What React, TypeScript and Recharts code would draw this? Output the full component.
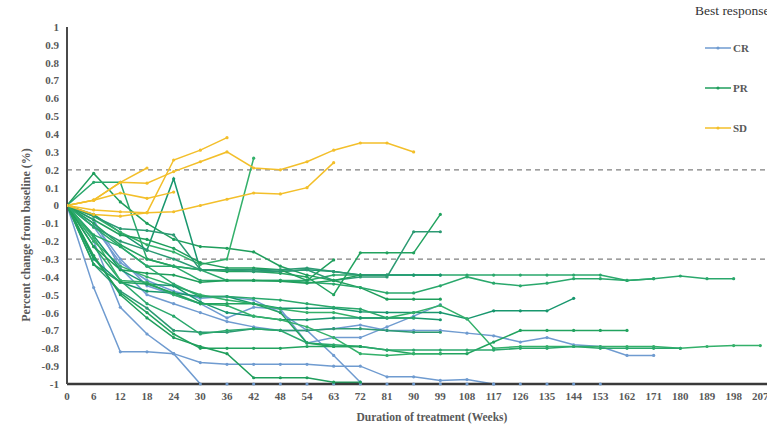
import { LineChart, Line, XAxis, YAxis, ReferenceLine, Legend } from "recharts";

// x categories (weeks) are evenly spaced, so the axis runs on the category index
const weeks = [0, 6, 12, 18, 24, 30, 36, 42, 48, 54, 63, 72, 81, 90, 99, 108, 117, 126, 135, 144, 153, 162, 171, 180, 189, 198, 207];
const yTicks = [-1, -0.9, -0.8, -0.7, -0.6, -0.5, -0.4, -0.3, -0.2, -0.1, 0, 0.1, 0.2, 0.3, 0.4, 0.5, 0.6, 0.7, 0.8, 0.9, 1];

// CR
const cr1 = [0, -0.46, -0.82, -0.82, -0.83, -0.88, -0.89, -0.89, -0.89, -0.89, -0.9, -0.9, -0.96, -0.96, -0.98, -0.975, -1];
const cr2 = [0, -0.2, -0.57, -0.72, -0.83, -1, -1, -1, -1, -1, -1, -1, -1, -1, -1, -1, -1, -1, -1, -1, -1];
const cr3 = [0, -0.1, -0.3, -0.45, -0.5, -0.55, -0.63, -0.57, -0.58, -0.77, -0.74, -0.74, -0.68, -0.62, -0.555];
const cr4 = [0, -0.12, -0.32, -0.42, -0.48, -0.52, -0.51, -0.53, -0.6, -0.7, -0.84, -0.99];
const cr5 = [0, -0.08, -0.35, -0.5, -0.55, -0.6, -0.65, -0.68, -0.7, -0.7, -0.69, -0.67, -0.7, -0.7, -0.7, -0.715, -0.73, -0.765, -0.74, -0.78, -0.79, -0.84, -0.84];

// PR
const pr1 = [0, 0.18, 0.02, -0.1, -0.19, -0.23, -0.24, -0.26, -0.34, -0.39, -0.42, -0.46, -0.525, -0.525, -0.525];
const pr2 = [0, 0.13, 0.13, -0.3, -0.34, -0.42, -0.42, -0.42, -0.42, -0.42, -0.39, -0.39, -0.39, -0.39, -0.39, -0.39, -0.39, -0.39, -0.39, -0.39, -0.39, -0.42, -0.41, -0.395, -0.41, -0.41];
const pr3 = [0, -0.05, -0.15, -0.25, 0.15, -0.36, -0.36, -0.36, -0.37, -0.36, -0.37, -0.39, -0.39, -0.39, -0.39];
const pr4 = [0, -0.06, -0.15, -0.22, -0.26, -0.33, -0.3, 0.265];
const pr5 = [0, -0.1, -0.22, -0.3, -0.34, -0.36, -0.37, -0.37, -0.38, -0.4, -0.5, -0.265, -0.265, -0.265, -0.05];
const pr6 = [0, -0.12, -0.2, -0.25, -0.3, -0.36, -0.36, -0.37, -0.37, -0.36, -0.42, -0.4, -0.4, -0.147, -0.147];
const pr7 = [0, -0.08, -0.165, -0.19, -0.24, -0.32, -0.35, -0.35, -0.36, -0.42, -0.305];
const pr8 = [0, -0.12, -0.23, -0.34, -0.34, -0.36, -0.42, -0.42, -0.42, -0.43, -0.44, -0.46, -0.49, -0.49, -0.45, -0.4, -0.435, -0.45, -0.435, -0.41, -0.41, -0.42, -0.41];
const pr9 = [0, -0.3, -0.43, -0.48, -0.49, -0.51, -0.51, -0.55, -0.575, -0.575, -0.575, -0.595, -0.6, -0.6, -0.6, -0.635, -0.59, -0.59, -0.59, -0.52];
const pr10 = [0, -0.2, -0.34, -0.4, -0.45, -0.5, -0.53, -0.55, -0.58, -0.6, -0.6, -0.63, -0.63, -0.6, -0.56, -0.635, -0.8, -0.79, -0.79, -0.79, -0.79, -0.79, -0.79, -0.8, -0.79, -0.785, -0.785];
const pr11 = [0, -0.29, -0.49, -0.6, -0.72, -0.8, -0.8, -0.8, -0.8, -0.79, -0.79, -0.79, -0.81, -0.83, -0.83, -0.83, -0.765, -0.7, -0.7, -0.7, -0.7, -0.7];
const pr12 = [0, -0.33, -0.48, -0.575, -0.7, -0.71, -0.71, -0.69, -0.7, -0.7, -0.69, -0.69, -0.7, -0.71, -0.71];
const pr13 = [0, -0.28, -0.5, -0.63, -0.74, -0.79, -0.83, -0.965, -0.965, -0.965, -0.99, -0.99];
const pr14 = [0, -0.23, -0.42, -0.55, -0.62, -0.72, -0.7, -0.69, -0.7, -0.77, -0.78, -0.79, -0.81, -0.81, -0.81, -0.81, -0.81, -0.8, -0.8, -0.79, -0.8, -0.8, -0.8, -0.8];
const pr15 = [0, -0.17, -0.36, -0.44, -0.45, -0.54, -0.6, -0.62, -0.64, -0.64, -0.63, -0.63, -0.63, -0.63, -0.64];
const pr16 = [0, -0.18, -0.42, -0.43, -0.5, -0.55, -0.56, -0.62, -0.64, -0.68, -0.74, -0.83, -0.84, -0.83, -0.83];
const pr17 = [0, -0.33, -0.43, -0.44, -0.49, -0.55, -0.55, -0.55, -0.6, -0.77, -0.79, -0.79];
const pr18 = [0, -0.06, -0.13, -0.14, -0.165, -0.36, -0.36, -0.36, -0.36, -0.35, -0.37, -0.39, -0.39];
const pr19 = [0, -0.23, -0.36, -0.38, -0.39, -0.43, -0.42, -0.42, -0.425, -0.435, -0.42, -0.39];
const pr20 = [0, -0.165, -0.23, -0.34, -0.44, -0.51, -0.51, -0.52, -0.53, -0.55, -0.57, -0.58, -0.63, -0.63];

// SD
const sd1 = [0, 0.03, 0.13, 0.21];
const sd2 = [0, -0.025, -0.035, -0.04, 0.255, 0.31, 0.38];
const sd3 = [0, 0.03, 0.13, 0.125, 0.19, 0.245, 0.3, 0.21, 0.2, 0.245, 0.31, 0.35, 0.35, 0.3];
const sd4 = [0, 0.03, 0.07, 0.04, 0.075];
const sd5 = [0, -0.05, -0.06, -0.04, -0.035, 0, 0.035, 0.07, 0.065, 0.1, 0.24];

const CR_COLOR = "#6f9bd0";
const PR_COLORS = ["#1f9e5c", "#2aa86c", "#18976e", "#33b06a", "#22a35f", "#2c9a73"];
const SD_COLOR = "#f3bf2a";

const crList = [cr1, cr2, cr3, cr4, cr5];
const prList = [pr1, pr2, pr3, pr4, pr5, pr6, pr7, pr8, pr9, pr10, pr11, pr12, pr13, pr14, pr15, pr16, pr17, pr18, pr19, pr20];
const sdList = [sd1, sd2, sd3, sd4, sd5];

const series = [
  ...crList.map((v, k) => ({ key: `cr${k + 1}`, values: v, color: CR_COLOR })),
  ...prList.map((v, k) => ({ key: `pr${k + 1}`, values: v, color: PR_COLORS[k % PR_COLORS.length] })),
  ...sdList.map((v, k) => ({ key: `sd${k + 1}`, values: v, color: SD_COLOR })),
];

const rows = weeks.map((w, i) => {
  const r: Record<string, number> = { i };
  series.forEach((s) => {
    if (i < s.values.length) r[s.key] = s.values[i];
  });
  return r;
});

const font = "'Liberation Serif', 'Times New Roman', serif";
const grey = "#595959";

function fmtY(v: number) {
  return String(Number(v.toFixed(1)));
}

function LegendBox() {
  const items = [
    { name: "CR", color: CR_COLOR, top: 42 },
    { name: "PR", color: PR_COLORS[0], top: 82 },
    { name: "SD", color: SD_COLOR, top: 122 },
  ];
  return (
    <div style={{ position: "relative", width: 100, height: 140, fontFamily: font }}>
      <div style={{ position: "absolute", left: 7, top: 3, fontSize: 13.5, color: "#333", whiteSpace: "nowrap" }}>
        Best response
      </div>
      {items.map((it) => (
        <div key={it.name} style={{ position: "absolute", left: 17, top: it.top, height: 12, display: "flex", alignItems: "center" }}>
          <svg width={26} height={8}>
            <line x1={0} y1={4} x2={26} y2={4} stroke={it.color} strokeWidth={1.5} />
            <circle cx={13} cy={4} r={1.6} fill={it.color} />
          </svg>
          <span style={{ marginLeft: 2, fontSize: 11, fontWeight: "bold", color: grey }}>{it.name}</span>
        </div>
      ))}
    </div>
  );
}

export default function App() {
  return (
    <div style={{ position: "absolute", left: 0, top: 0, background: "#fff" }}>
      <LineChart width={767} height={425} data={rows} margin={{ top: 27, right: 0, left: 0, bottom: 0 }}>
        <XAxis
          dataKey="i"
          type="number"
          domain={[0, 26.25]}
          allowDataOverflow
          ticks={weeks.map((_, i) => i)}
          interval={0}
          tickFormatter={(i: number) => String(weeks[i])}
          height={41}
          tickLine={false}
          axisLine={{ stroke: "#3a3a3a", strokeWidth: 2.5 }}
          tick={{ fontFamily: font, fontSize: 11, fontWeight: "bold", fill: grey }}
          label={() => (
            <text x={432} y={421} textAnchor="middle" fontFamily={font} fontSize={11.5} fontWeight="bold" fill={grey}>
              Duration of treatment (Weeks)
            </text>
          )}
        />
        <YAxis
          type="number"
          domain={[-1, 1]}
          ticks={yTicks}
          interval={0}
          tickFormatter={fmtY}
          width={67}
          tickLine={false}
          axisLine={{ stroke: "#4a4a4a", strokeWidth: 2 }}
          tick={{ fontFamily: font, fontSize: 11, fontWeight: "bold", fill: grey }}
          label={() => (
            <text
              x={30}
              y={235}
              transform="rotate(-90 30 235)"
              textAnchor="middle"
              fontFamily={font}
              fontSize={12}
              fontWeight="bold"
              fill={grey}
            >
              Percent change from baseline (%)
            </text>
          )}
        />
        <ReferenceLine y={0.2} stroke="#808080" strokeDasharray="5 4" strokeWidth={1.2} />
        <ReferenceLine y={-0.3} stroke="#808080" strokeDasharray="5 4" strokeWidth={1.2} />
        {series.map((s) => (
          <Line
            key={s.key}
            dataKey={s.key}
            stroke={s.color}
            strokeWidth={1.5}
            dot={{ r: 1.6, fill: s.color, stroke: "none" }}
            isAnimationActive={false}
            legendType="none"
          />
        ))}
        <Legend
          layout="horizontal"
          align="center"
          verticalAlign="middle"
          content={() => <LegendBox />}
          wrapperStyle={{ left: 688, top: 0, width: 100, height: 140 }}
        />
      </LineChart>
    </div>
  );
}
